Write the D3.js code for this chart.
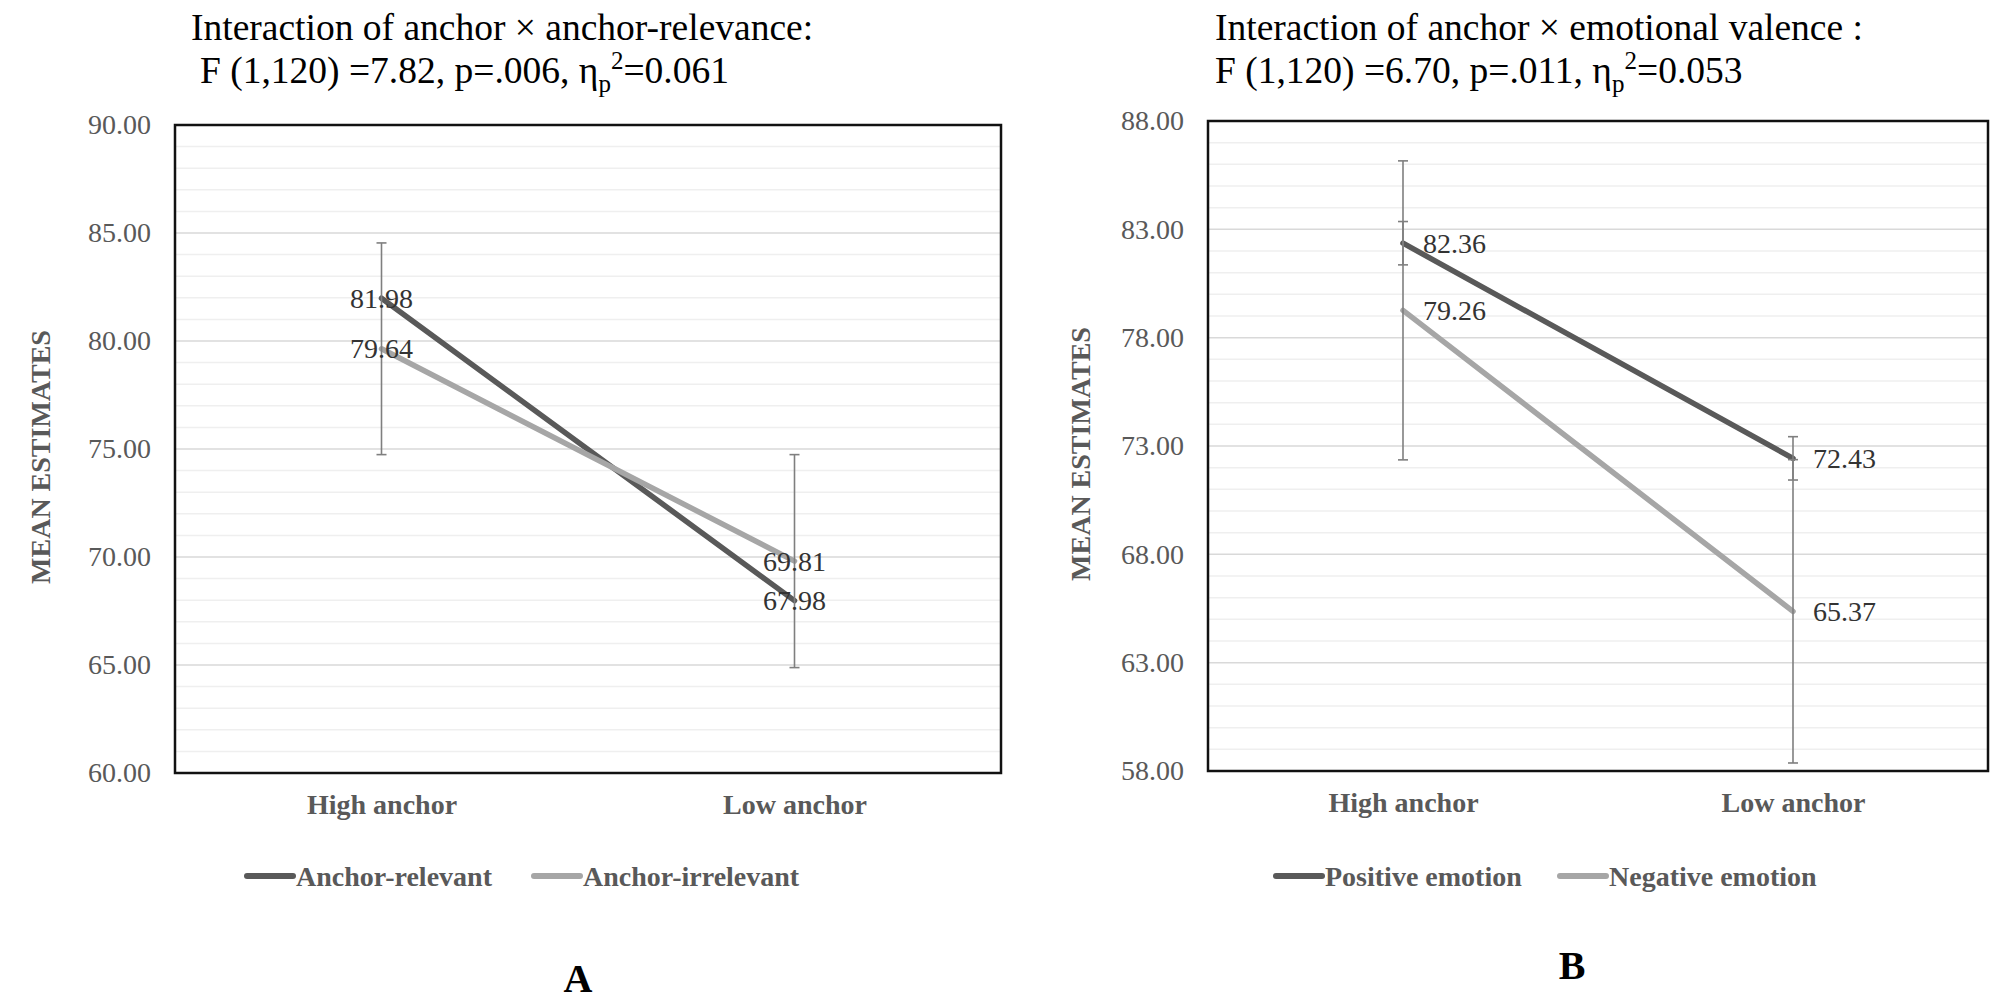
<!DOCTYPE html>
<html>
<head>
<meta charset="UTF-8" />
<title>Anchor interactions</title>
<script src="https://d3js.org/d3.v7.min.js"></script>
<style>
  body { margin: 0; background: #fff; }
  svg { display: block; font-family: "Liberation Serif", "Times New Roman", serif; }
</style>
</head>
<body>
<script type="text/javascript">

// ---- data ----
var categories = ["High anchor", "Low anchor"];

// panel A
var relevantMeans   = [81.98, 67.98];
var irrelevantMeans = [79.64, 69.81];
var irrelevantErr   = [4.90, 4.93];
var ticksA = [60, 65, 70, 75, 80, 85, 90];

// panel B
var positiveMeans = [82.36, 72.43];
var negativeMeans = [79.26, 65.37];
var positiveErr   = [1.00, 1.00];
var negativeErr   = [6.90, 7.00];
var ticksB = [58, 63, 68, 73, 78, 83, 88];

var titlesA = ["Interaction of anchor \u00d7 anchor-relevance:", ["F (1,120) =7.82, p=.006, \u03b7", "0.061"]];
var titlesB = ["Interaction of anchor \u00d7 emotional valence :", ["F (1,120) =6.70, p=.011, \u03b7", "0.053"]];

var width = 2008, height = 1002;
var dark = "#595959", light = "#a6a6a6";

var svg = d3.select("body").append("svg")
    .attr("width", width)
    .attr("height", height);

var panels = [
  {
    box: {x0: 175, x1: 1001, y0: 125, y1: 773},
    ticks: ticksA,
    title: titlesA, titleX: [191, 200], titleY: [40, 83],
    series: [
      {name: "Anchor-relevant",   values: relevantMeans,   err: null,          color: dark},
      {name: "Anchor-irrelevant", values: irrelevantMeans, err: irrelevantErr, color: light}
    ],
    labelMode: "center",
    legendX: [245, 532],
    yTitleX: 40,
    letter: "A", letterX: 578, letterY: 978
  },
  {
    box: {x0: 1208, x1: 1988, y0: 121, y1: 771},
    ticks: ticksB,
    title: titlesB, titleX: [1215, 1215], titleY: [40, 83],
    series: [
      {name: "Positive emotion", values: positiveMeans, err: positiveErr, color: dark},
      {name: "Negative emotion", values: negativeMeans, err: negativeErr, color: light}
    ],
    labelMode: "right",
    legendX: [1274, 1558],
    yTitleX: 1080,
    letter: "B", letterX: 1572, letterY: 965
  }
];

panels.forEach(drawPanel);

function drawPanel(p) {
  var b = p.box;
  var g = svg.append("g");

  var x = d3.scalePoint().domain(categories).range([b.x0, b.x1]).padding(0.5);
  var y = d3.scaleLinear().domain(d3.extent(p.ticks)).range([b.y1, b.y0]);

  // minor gridlines every 1 unit, major at ticks
  var minor = d3.range(p.ticks[0] + 1, p.ticks[p.ticks.length - 1], 1)
      .filter(function(v) { return p.ticks.indexOf(v) < 0; });
  g.append("g").selectAll("line").data(minor).enter().append("line")
      .attr("x1", b.x0).attr("x2", b.x1)
      .attr("y1", function(d) { return y(d); }).attr("y2", function(d) { return y(d); })
      .attr("stroke", "#efefef").attr("stroke-width", 1.5);
  g.append("g").selectAll("line").data(p.ticks).enter().append("line")
      .attr("x1", b.x0).attr("x2", b.x1)
      .attr("y1", function(d) { return y(d); }).attr("y2", function(d) { return y(d); })
      .attr("stroke", "#d9d9d9").attr("stroke-width", 1.5);

  // y axis labels
  var ya = g.append("g")
      .attr("transform", "translate(" + b.x0 + ",0)")
      .call(d3.axisLeft(y).tickValues(p.ticks).tickFormat(d3.format(".2f")).tickSize(0).tickPadding(24));
  ya.select(".domain").remove();
  ya.selectAll("text")
      .attr("font-family", "Liberation Serif, Times New Roman, serif")
      .attr("font-size", 28).attr("fill", dark);

  // x axis labels
  var xa = g.append("g")
      .attr("transform", "translate(0," + b.y1 + ")")
      .call(d3.axisBottom(x).tickSize(0).tickPadding(21));
  xa.select(".domain").remove();
  xa.selectAll("text")
      .attr("font-family", "Liberation Serif, Times New Roman, serif")
      .attr("font-size", 28).attr("font-weight", "bold").attr("fill", dark);

  // series lines
  var line = d3.line()
      .x(function(d, i) { return x(categories[i]); })
      .y(function(d) { return y(d); });

  p.series.forEach(function(s) {
    g.append("path")
        .datum(s.values)
        .attr("d", line)
        .attr("fill", "none")
        .attr("stroke", s.color)
        .attr("stroke-width", 5.5)
        .attr("stroke-linecap", "round");
  });

  // error bars
  p.series.forEach(function(s) {
    if (!s.err) return;
    var eb = g.append("g").selectAll("g").data(s.values).enter().append("g")
        .attr("stroke", "#7f7f7f").attr("stroke-width", 1.6);
    eb.append("line")
        .attr("x1", function(d, i) { return x(categories[i]); })
        .attr("x2", function(d, i) { return x(categories[i]); })
        .attr("y1", function(d, i) { return y(d - s.err[i]); })
        .attr("y2", function(d, i) { return y(d + s.err[i]); });
    [-1, 1].forEach(function(sign) {
      eb.append("line")
          .attr("x1", function(d, i) { return x(categories[i]) - 5; })
          .attr("x2", function(d, i) { return x(categories[i]) + 5; })
          .attr("y1", function(d, i) { return y(d + sign * s.err[i]); })
          .attr("y2", function(d, i) { return y(d + sign * s.err[i]); });
    });
  });

  // data labels
  p.series.forEach(function(s) {
    g.append("g").selectAll("text").data(s.values).enter().append("text")
        .attr("x", function(d, i) { return x(categories[i]) + (p.labelMode === "right" ? 20 : 0); })
        .attr("y", function(d) { return y(d); })
        .attr("text-anchor", p.labelMode === "right" ? "start" : "middle")
        .attr("dominant-baseline", "central")
        .attr("font-size", 28)
        .attr("fill", "#333")
        .text(function(d) { return d3.format(".2f")(d); });
  });

  // plot border
  g.append("rect")
      .attr("x", b.x0).attr("y", b.y0)
      .attr("width", b.x1 - b.x0).attr("height", b.y1 - b.y0)
      .attr("fill", "none").attr("stroke", "#111").attr("stroke-width", 2.5);

  // y axis title
  g.append("text")
      .attr("transform", "translate(" + p.yTitleX + "," + ((b.y0 + b.y1) / 2 + 8) + ") rotate(-90)")
      .attr("text-anchor", "middle")
      .attr("dominant-baseline", "central")
      .attr("font-size", 28).attr("font-weight", "bold").attr("fill", dark)
      .text("MEAN ESTIMATES");

  // titles
  g.append("text")
      .attr("x", p.titleX[0]).attr("y", p.titleY[0])
      .attr("font-size", 37.5).attr("fill", "#000")
      .text(p.title[0]);
  var t2 = g.append("text")
      .attr("x", p.titleX[1]).attr("y", p.titleY[1])
      .attr("font-size", 37.5).attr("fill", "#000");
  t2.append("tspan").text(p.title[1][0]);
  t2.append("tspan").attr("font-size", 25).attr("dy", 9).text("p");
  t2.append("tspan").attr("font-size", 25).attr("dy", -23).text("2");
  t2.append("tspan").attr("dy", 14).text("=" + p.title[1][1]);

  // legend
  var leg = g.append("g").selectAll("g").data(p.series).enter().append("g")
      .attr("transform", function(d, i) { return "translate(" + p.legendX[i] + ",876)"; });
  leg.append("line")
      .attr("x1", 2).attr("x2", 48)
      .attr("stroke", function(d) { return d.color; })
      .attr("stroke-width", 6).attr("stroke-linecap", "round");
  leg.append("text")
      .attr("x", 51)
      .attr("dominant-baseline", "central")
      .attr("font-size", 28).attr("font-weight", "bold").attr("fill", dark)
      .text(function(d) { return d.name; });

  // panel letter
  g.append("text")
      .attr("x", p.letterX).attr("y", p.letterY)
      .attr("text-anchor", "middle")
      .attr("dominant-baseline", "central")
      .attr("font-size", 40).attr("font-weight", "bold").attr("fill", "#000")
      .text(p.letter);
}

</script>
</body>
</html>
